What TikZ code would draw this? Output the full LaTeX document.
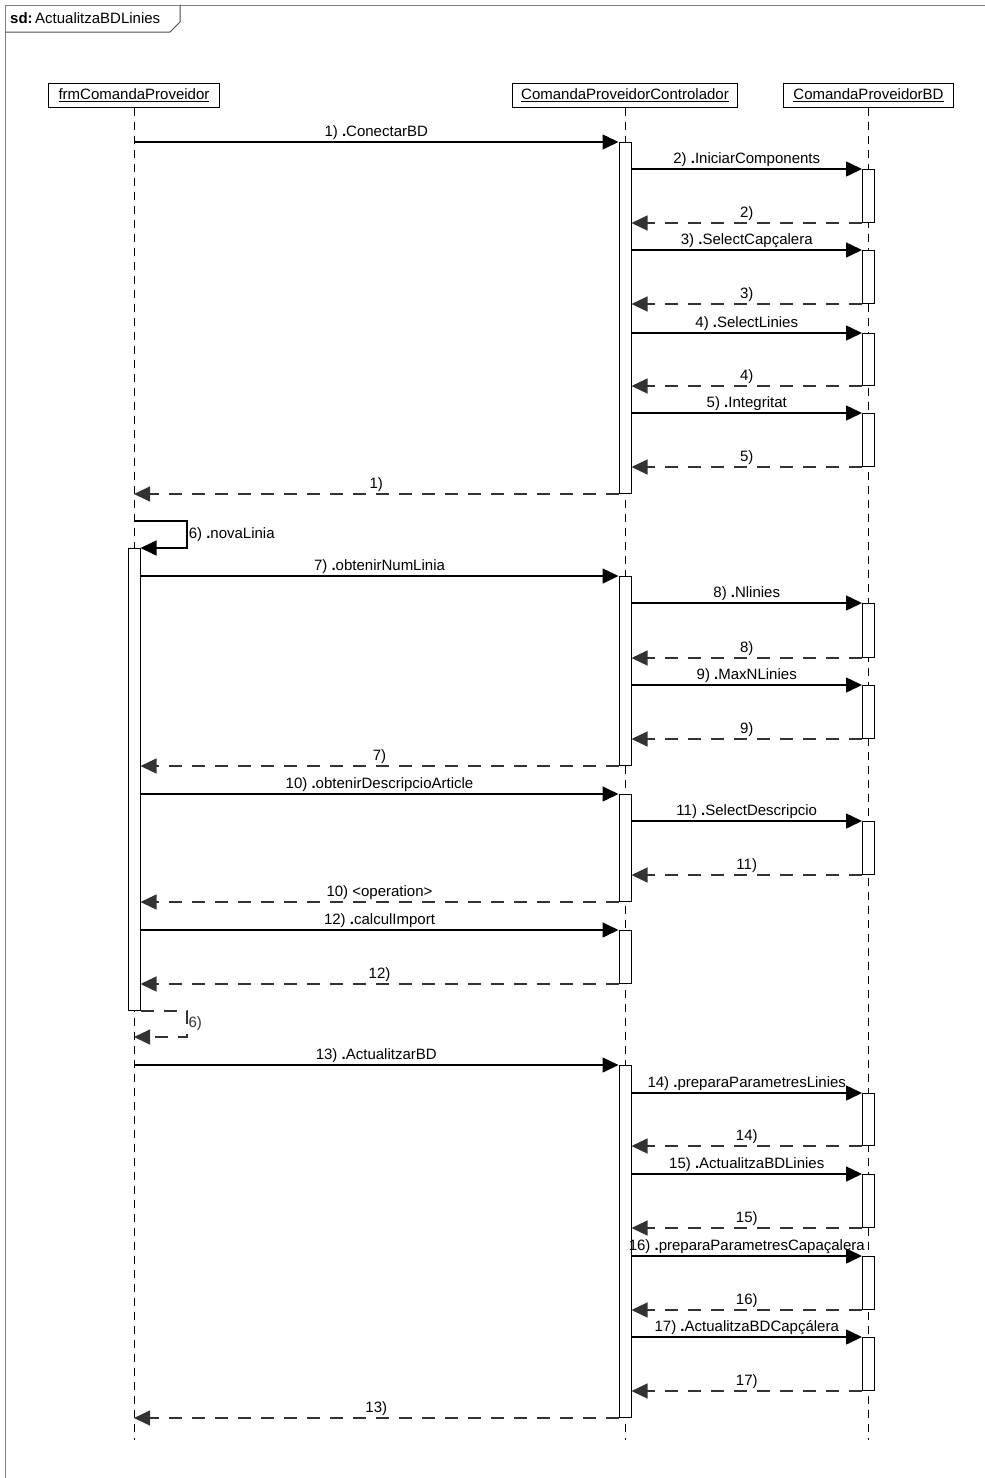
\documentclass[tikz,border=0pt]{standalone}
\usepackage{fontspec}
\setmainfont{Liberation Sans}
\usetikzlibrary{arrows.meta}

\begin{document}
\begin{tikzpicture}[x=1pt, y=-1pt, font=\fontsize{15}{17}\selectfont,
  obj/.style={draw, line width=1pt, minimum height=24pt, inner sep=0pt},
  act/.style={draw, fill=white, line width=1pt, minimum width=12pt, inner sep=0pt, anchor=north},
  lifeline/.style={dash pattern=on 8pt off 6pt, line width=1pt},
  call/.style={-{Triangle[length=16pt,width=15pt]}, line width=1.5pt},
  ret/.style={-{Triangle[length=16pt,width=15pt]}, line width=1.2pt, black!80, dash pattern=on 13pt off 10pt},
  lbl/.style={midway, above, inner sep=1.5pt, text=black}]

  \useasboundingbox (0,0) rectangle (985,1478);

  % --- 1. marc del diagrama ---
  \draw[gray, line width=1pt] (5,1478) -- (5,5) -- (985,5);
  \draw[line width=1pt, black!70] (5,32) -- (170,32) -- (180,22) -- (180,5);
  \node[anchor=west, inner sep=0pt] (sd) at (10,18) {\textbf{sd:}\,ActualitzaBDLinies};

  % --- 2. objectes i linies de vida ---
  \node[obj, minimum width=171pt] (frm) at (134,95) {\underline{frmComandaProveidor}};
  \node[obj, minimum width=225pt] (ctrl) at (625,95) {\underline{ComandaProveidorControlador}};
  \node[obj, minimum width=170pt] (bd) at (868.5,95) {\underline{ComandaProveidorBD}};

  \draw[lifeline] (frm.south) -- (frm.south |- 0,1440);
  \draw[lifeline] (ctrl.south) -- (ctrl.south |- 0,1440);
  \draw[lifeline] (bd.south) -- (bd.south |- 0,1440);

  % --- 3. activacions ---
  \node[act, minimum height=351pt] (c1) at (625,142) {};
  \node[act, minimum height=53pt] (b2) at (868.5,169) {};
  \node[act, minimum height=53pt] (b3) at (868.5,250) {};
  \node[act, minimum height=52pt] (b4) at (868.5,333) {};
  \node[act, minimum height=53pt] (b5) at (868.5,413) {};

  \node[act, minimum height=462pt] (f1) at (134,548) {};
  \node[act, minimum height=189pt] (c2) at (625,576) {};
  \node[act, minimum height=54pt] (b8) at (868.5,603) {};
  \node[act, minimum height=53pt] (b9) at (868.5,685) {};
  \node[act, minimum height=107pt] (c3) at (625,794) {};
  \node[act, minimum height=53pt] (b11) at (868.5,821) {};
  \node[act, minimum height=53pt] (c4) at (625,930) {};

  \node[act, minimum height=352pt] (c5) at (625,1065) {};
  \node[act, minimum height=52pt] (b14) at (868.5,1093) {};
  \node[act, minimum height=53pt] (b15) at (868.5,1174) {};
  \node[act, minimum height=53pt] (b16) at (868.5,1256) {};
  \node[act, minimum height=53pt] (b17) at (868.5,1337) {};

  % --- 4. missatges: ConectarBD ---
  \draw[call] (frm.south |- c1.north) -- (c1.north west) node[lbl] {1) \textbf{.}ConectarBD};
  \draw[call] (c1.east |- b2.north) -- (b2.north west) node[lbl] {2) \textbf{.}IniciarComponents};
  \draw[ret] (b2.south west) -- (c1.east |- b2.south) node[lbl] {2)};
  \draw[call] (c1.east |- b3.north) -- (b3.north west) node[lbl] {3) \textbf{.}SelectCapçalera};
  \draw[ret] (b3.south west) -- (c1.east |- b3.south) node[lbl] {3)};
  \draw[call] (c1.east |- b4.north) -- (b4.north west) node[lbl] {4) \textbf{.}SelectLinies};
  \draw[ret] (b4.south west) -- (c1.east |- b4.south) node[lbl] {4)};
  \draw[call] (c1.east |- b5.north) -- (b5.north west) node[lbl] {5) \textbf{.}Integritat};
  \draw[ret] (b5.south west) -- (c1.east |- b5.south) node[lbl] {5)};
  \draw[ret] (c1.south west) -- (frm.south |- c1.south) node[lbl] {1)};

  % --- 5. missatges: novaLinia ---
  \coordinate (s6a) at (187,521);
  \coordinate (s6b) at (187,1037);
  \draw[call] (frm.south |- s6a) -- (s6a) -- (s6a |- f1.north)
    node[midway, right, inner sep=1pt] {6) \textbf{.}novaLinia} -- (f1.north east);
  \draw[call] (f1.east |- c2.north) -- (c2.north west) node[lbl] {7) \textbf{.}obtenirNumLinia};
  \draw[call] (c2.east |- b8.north) -- (b8.north west) node[lbl] {8) \textbf{.}Nlinies};
  \draw[ret] (b8.south west) -- (c2.east |- b8.south) node[lbl] {8)};
  \draw[call] (c2.east |- b9.north) -- (b9.north west) node[lbl] {9) \textbf{.}MaxNLinies};
  \draw[ret] (b9.south west) -- (c2.east |- b9.south) node[lbl] {9)};
  \draw[ret] (c2.south west) -- (f1.east |- c2.south) node[lbl] {7)};
  \draw[call] (f1.east |- c3.north) -- (c3.north west) node[lbl] {10) \textbf{.}obtenirDescripcioArticle};
  \draw[call] (c3.east |- b11.north) -- (b11.north west) node[lbl] {11) \textbf{.}SelectDescripcio};
  \draw[ret] (b11.south west) -- (c3.east |- b11.south) node[lbl] {11)};
  \draw[ret] (c3.south west) -- (f1.east |- c3.south) node[lbl] {10) <operation>};
  \draw[call] (f1.east |- c4.north) -- (c4.north west) node[lbl] {12) \textbf{.}calculImport};
  \draw[ret] (c4.south west) -- (f1.east |- c4.south) node[lbl] {12)};
  \draw[ret] (f1.south east) -- (s6b |- f1.south) -- (s6b)
    node[midway, right, inner sep=1pt] {6)} -- (frm.south |- s6b);

  % --- 6. missatges: ActualitzarBD ---
  \draw[call] (frm.south |- c5.north) -- (c5.north west) node[lbl] {13) \textbf{.}ActualitzarBD};
  \draw[call] (c5.east |- b14.north) -- (b14.north west) node[lbl] {14) \textbf{.}preparaParametresLinies};
  \draw[ret] (b14.south west) -- (c5.east |- b14.south) node[lbl] {14)};
  \draw[call] (c5.east |- b15.north) -- (b15.north west) node[lbl] {15) \textbf{.}ActualitzaBDLinies};
  \draw[ret] (b15.south west) -- (c5.east |- b15.south) node[lbl] {15)};
  \draw[call] (c5.east |- b16.north) -- (b16.north west) node[lbl] {16) \textbf{.}preparaParametresCapaçalera};
  \draw[ret] (b16.south west) -- (c5.east |- b16.south) node[lbl] {16)};
  \draw[call] (c5.east |- b17.north) -- (b17.north west) node[lbl] {17) \textbf{.}ActualitzaBDCapçálera};
  \draw[ret] (b17.south west) -- (c5.east |- b17.south) node[lbl] {17)};
  \draw[ret] (c5.south west) -- (frm.south |- c5.south) node[lbl] {13)};

\end{tikzpicture}
\end{document}
